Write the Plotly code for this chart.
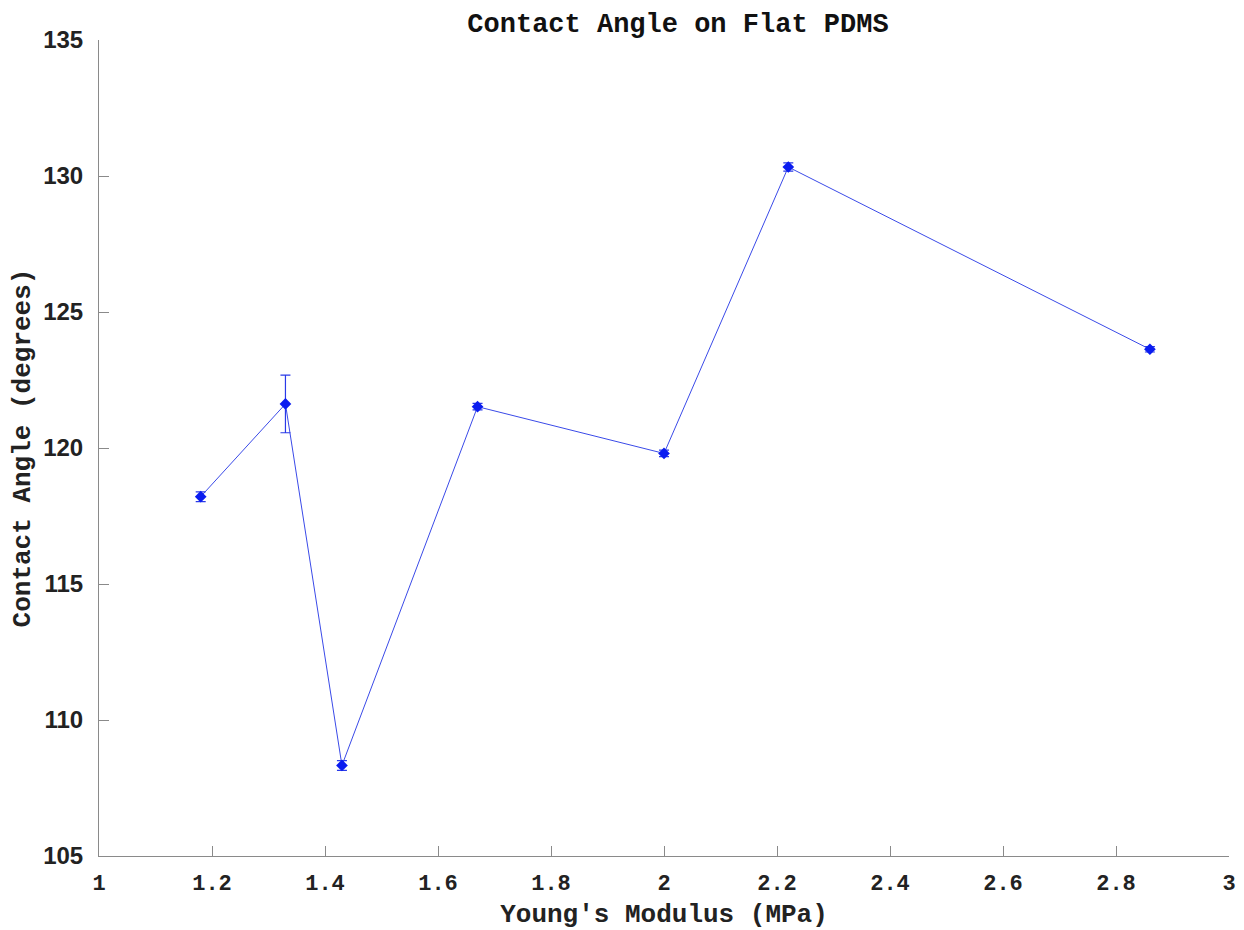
import plotly.graph_objects as go

youngs_modulus = [1.18, 1.33, 1.43, 1.67, 2.00, 2.22, 2.86]
contact_angle = [118.21, 121.62, 108.33, 121.52, 119.80, 130.33, 123.63]
angle_error = [0.18, 1.06, 0.18, 0.12, 0.12, 0.15, 0.10]

x_ticks = [1, 1.2, 1.4, 1.6, 1.8, 2, 2.2, 2.4, 2.6, 2.8, 3]
x_tick_labels = ["1", "1.2", "1.4", "1.6", "1.8", "2", "2.2", "2.4", "2.6", "2.8", "3"]
y_ticks = [105, 110, 115, 120, 125, 130, 135]

mono = "Liberation Mono"
blue = "#0a1cf0"

fig = go.Figure()
fig.add_trace(go.Scatter(
    x=youngs_modulus, y=contact_angle,
    mode="lines+markers",
    line=dict(color="#3a4ae8", width=1),
    marker=dict(symbol="diamond", size=9, color=blue),
    error_y=dict(type="data", array=angle_error, visible=True,
                 color="#2a3ae8", thickness=1.2, width=5),
    showlegend=False,
))

fig.update_layout(
    width=1244, height=930,
    paper_bgcolor="white", plot_bgcolor="white",
    margin=dict(l=99, r=15, t=40, b=74),
    title=dict(text="<b>Contact Angle on Flat PDMS</b>",
               font=dict(family=mono, size=27, color="#111111"),
               x=0.545, xanchor="center", y=0.976, yanchor="middle"),
    xaxis=dict(
        range=[1, 3], tickmode="array", tickvals=x_ticks, ticktext=x_tick_labels,
        automargin=False,
        showgrid=False, zeroline=False, showline=True, linecolor="#8a8a8a", linewidth=1,
        ticks="inside", ticklen=10, tickcolor="#8a8a8a",
        tickfont=dict(family=mono, size=22, color="#222222", weight="bold"),
        ticklabelstandoff=7,
        title=dict(text="<b>Young's Modulus (MPa)</b>",
                   font=dict(family=mono, size=26, color="#222222"), standoff=17),
    ),
    yaxis=dict(
        range=[105, 135], tickmode="array", tickvals=y_ticks,
        automargin=False,
        showgrid=False, zeroline=False, showline=True, linecolor="#8a8a8a", linewidth=1,
        ticks="inside", ticklen=10, tickcolor="#8a8a8a",
        tickfont=dict(family="Liberation Sans", size=24, color="#222222", weight="bold"),
        ticklabelstandoff=10,
        title=dict(text="<b>Contact Angle (degrees)</b>",
                   font=dict(family=mono, size=26, color="#222222"), standoff=5),
    ),
)

fig.write_html("out.html")
